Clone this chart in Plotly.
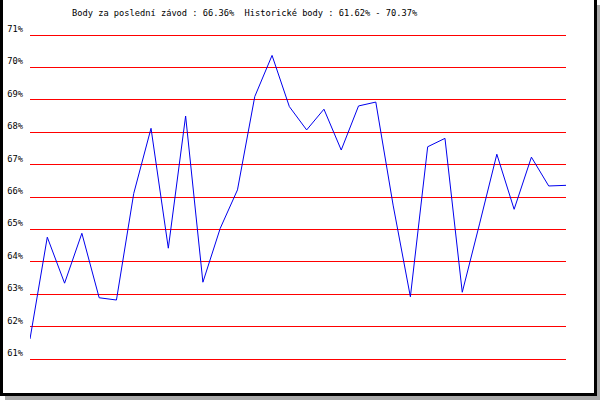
import plotly.graph_objects as go

# ---- data ----
races = list(range(1, 33))
points = [61.62, 64.76, 63.34, 64.88, 62.89, 62.82, 66.11, 68.12, 64.42, 68.50,
          63.37, 65.03, 66.22, 69.10, 70.37, 68.79, 68.07, 68.71, 67.45, 68.81,
          68.93, 65.75, 62.92, 67.55, 67.81, 63.06, 65.17, 67.32, 65.62, 67.23,
          66.34, 66.36]
y_ticks = [61, 62, 63, 64, 65, 66, 67, 68, 69, 70, 71]
y_tick_labels = [f"{v}%" for v in y_ticks]
title_text = "Body za poslední závod : 66.36%  Historické body : 61.62% - 70.37%"

# ---- layout geometry (pixels) ----
W, H = 600, 400
L, R, T, B = 30, 566, 33, 361
px_per_unit = 32.4
pad = (B - T - 10 * px_per_unit) / 2 / px_per_unit


def xp(px):
    return (px - L) / (R - L)


def yp(py):
    return (B - py) / (B - T)


font_family = "DejaVu Sans Mono"

fig = go.Figure()
fig.add_trace(go.Scatter(
    x=races, y=points, mode="lines",
    line=dict(color="#0000ee", width=1),
    hoverinfo="skip", showlegend=False,
))

shapes = []


def rect(x0, y0, x1, y1, color):
    shapes.append(dict(type="rect", xref="paper", yref="paper",
                       x0=xp(x0), x1=xp(x1), y0=yp(y1), y1=yp(y0),
                       fillcolor=color, line=dict(width=0), layer="above"))


# drop shadow
rect(597, 5, 600, 400, "#a9a9a9")
rect(5, 396, 600, 400, "#a9a9a9")
# black frame
rect(0, 0, 3, 396, "#000000")
rect(0, 393, 597, 396, "#000000")
rect(594, 0, 597, 396, "#000000")

fig.update_layout(
    width=W, height=H,
    margin=dict(l=L, r=W - R, t=T, b=H - B, pad=0, autoexpand=False),
    paper_bgcolor="white", plot_bgcolor="white",
    font=dict(family=font_family, size=8.7, color="black"),
    xaxis=dict(range=[races[0], races[-1]], showgrid=False, zeroline=False,
               showticklabels=False, showline=False, ticks="", automargin=False),
    yaxis=dict(range=[61 - pad, 71 + pad], tickvals=y_ticks, ticktext=y_tick_labels,
               showgrid=True, gridcolor="#ff0000", gridwidth=1,
               zeroline=False, showline=False, ticks="", automargin=False,
               ticklabelstandoff=6, ticklabelshift=-6,
               tickfont=dict(family=font_family, size=8.7, color="black")),
    shapes=shapes,
    annotations=[dict(
        text=title_text, xref="paper", yref="paper",
        x=xp(70), y=yp(13), xanchor="left", yanchor="middle",
        showarrow=False, font=dict(family=font_family, size=8.7, color="black"),
    )],
)

fig.write_html(
    "out.html",
    config={"displayModeBar": False},
    post_script="document.body.style.margin='0';document.body.style.padding='0';"
                "document.body.style.overflow='hidden';",
)
